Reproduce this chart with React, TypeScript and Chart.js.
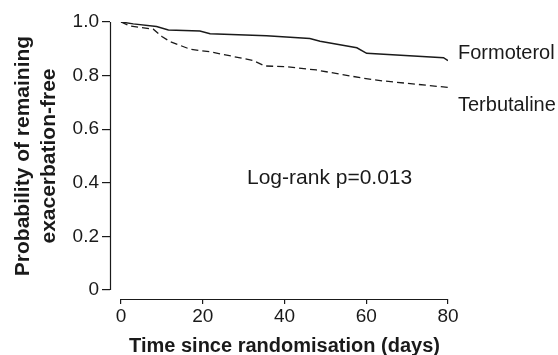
import React, { useEffect, useRef } from "react";
import { Chart, registerables } from "chart.js";

Chart.register(...registerables);

const formoterolDays = [0, 3, 8.7, 11.6, 19.3, 21.8, 35.6, 46.2, 48.7, 57.7, 60.1, 78.9, 80];
const formoterolProb = [1.0, 0.993, 0.983, 0.97, 0.966, 0.956, 0.949, 0.938, 0.928, 0.904, 0.883, 0.867, 0.856];
const terbutalineDays = [0, 2.2, 7.9, 10, 12, 17, 21.8, 32.4, 35.2, 40.5, 47.8, 59.3, 64.2, 80];
const terbutalineProb = [1.0, 0.985, 0.973, 0.946, 0.927, 0.898, 0.889, 0.856, 0.836, 0.833, 0.821, 0.79, 0.78, 0.756];
const xTicks = [0, 20, 40, 60, 80];
const yTicks = [0, 0.2, 0.4, 0.6, 0.8, 1.0];
const seriesLabels = ["Formoterol", "Terbutaline"];
const annotationText = "Log-rank p=0.013";
const xTitle = "Time since randomisation (days)";
const yTitleLines = ["Probability of remaining", "exacerbation-free"];

const FONT = "'Liberation Sans', Arial, Helvetica, sans-serif";
const INK = "#1a1a1a";

export default function App() {
  const ref = useRef<HTMLCanvasElement | null>(null);

  useEffect(() => {
    document.body.style.margin = "0";
    const canvas = ref.current;
    if (!canvas) return;

    const decor = {
      id: "decor",
      afterDraw(chart: any) {
        const { ctx, chartArea, scales } = chart;
        const xs = scales.x;
        const ys = scales.y;
        ctx.save();
        ctx.strokeStyle = INK;
        ctx.lineWidth = 1.2;
        // y axis line
        ctx.beginPath();
        ctx.moveTo(chartArea.left + 0.5, ys.getPixelForValue(1.0));
        ctx.lineTo(chartArea.left + 0.5, ys.getPixelForValue(0));
        ctx.stroke();
        // x axis line
        ctx.beginPath();
        ctx.moveTo(xs.getPixelForValue(0), chartArea.bottom + 0.5);
        ctx.lineTo(xs.getPixelForValue(80), chartArea.bottom + 0.5);
        ctx.stroke();

        ctx.fillStyle = INK;
        ctx.font = `20px ${FONT}`;
        ctx.textAlign = "left";
        ctx.textBaseline = "alphabetic";
        ctx.fillText(seriesLabels[0], 458, 59);
        ctx.fillText(seriesLabels[1], 458, 111);

        ctx.font = `21px ${FONT}`;
        ctx.fillText(annotationText, 247, 184);

        ctx.font = `bold 20px ${FONT}`;
        ctx.textAlign = "center";
        ctx.fillText(xTitle, (xs.getPixelForValue(0) + xs.getPixelForValue(80)) / 2, 352);

        ctx.font = `bold 21px ${FONT}`;
        const cy = (ys.getPixelForValue(0) + ys.getPixelForValue(1)) / 2;
        ctx.translate(0, cy);
        ctx.rotate(-Math.PI / 2);
        ctx.fillText(yTitleLines[0], 0, 29);
        ctx.fillText(yTitleLines[1], 0, 55);
        ctx.restore();
      },
    };

    const chart = new Chart(canvas, {
      type: "line",
      data: {
        datasets: [
          {
            label: seriesLabels[0],
            data: formoterolDays.map((d, i) => ({ x: d, y: formoterolProb[i] })),
            borderColor: INK,
            borderWidth: 1.5,
            pointRadius: 0,
            fill: false,
            tension: 0,
          },
          {
            label: seriesLabels[1],
            data: terbutalineDays.map((d, i) => ({ x: d, y: terbutalineProb[i] })),
            borderColor: INK,
            borderWidth: 1.3,
            borderDash: [7, 4],
            pointRadius: 0,
            fill: false,
            tension: 0,
          },
        ],
      },
      options: {
        animation: false,
        responsive: false,
        maintainAspectRatio: false,
        layout: { padding: { top: 22, right: 110, left: 0, bottom: 0 } },
        plugins: { legend: { display: false }, tooltip: { enabled: false }, title: { display: false } },
        scales: {
          x: {
            type: "linear",
            min: -2.69,
            max: 80,
            afterFit: (s: any) => {
              s.height = 56;
            },
            afterBuildTicks: (s: any) => {
              s.ticks = xTicks.map((v) => ({ value: v }));
            },
            grid: { display: true, drawOnChartArea: false, drawTicks: true, tickLength: 5, color: INK, lineWidth: 1.2 },
            border: { display: false },
            ticks: {
              color: INK,
              font: { family: FONT, size: 19 },
              padding: 1,
              maxRotation: 0,
              autoSkip: false,
              callback: (v: any) => String(v),
            },
          },
          y: {
            type: "linear",
            min: -0.0336,
            max: 1.0,
            afterFit: (s: any) => {
              s.width = 110;
            },
            afterBuildTicks: (s: any) => {
              s.ticks = yTicks.map((v) => ({ value: v }));
            },
            grid: { display: true, drawOnChartArea: false, drawTicks: true, tickLength: 8, color: INK, lineWidth: 1.2 },
            border: { display: false },
            ticks: {
              color: INK,
              font: { family: FONT, size: 19 },
              padding: 3,
              autoSkip: false,
              callback: (v: any) => (Number(v) === 0 ? "0" : Number(v).toFixed(1)),
            },
          },
        },
      },
      plugins: [decor],
    });

    return () => chart.destroy();
  }, []);

  return (
    <div style={{ width: 558, height: 355, background: "#fff" }}>
      <canvas ref={ref} width={558} height={355} style={{ display: "block" }} />
    </div>
  );
}
